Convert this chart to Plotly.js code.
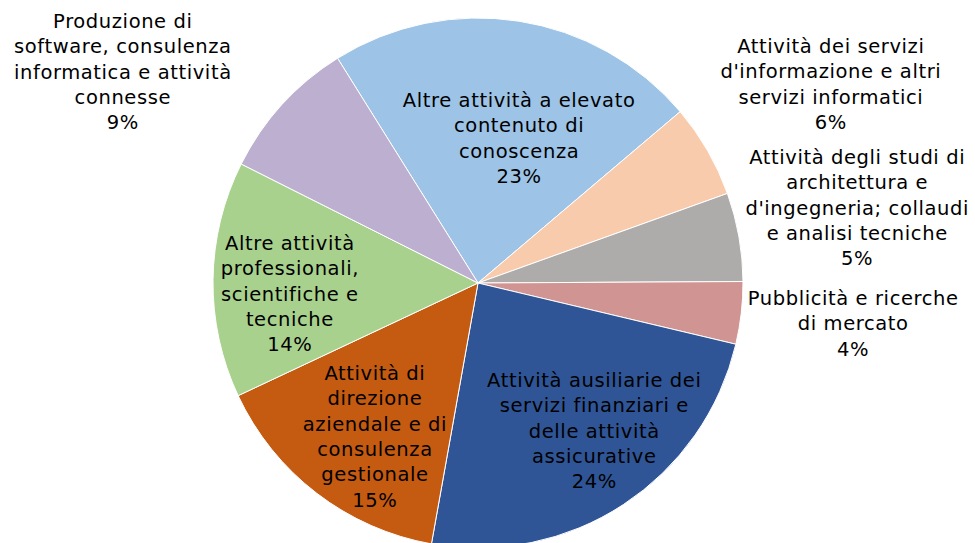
<!DOCTYPE html>
<html>
<head>
<meta charset="utf-8">
<script src="https://cdn.plot.ly/plotly-3.0.1.min.js"></script>
<style>
html,body{margin:0;padding:0;overflow:hidden;background:#fff;}
#chart{width:975px;height:560px;}
#chart text.annotation-text{letter-spacing:0.6px;}
</style>
</head>
<body>
<div id="chart"></div>
<script>
// Categories (with line breaks as in the reference labels)
const categories = [
  "Altre attività a elevato<br>contenuto di<br>conoscenza",
  "Attività dei servizi<br>d'informazione e altri<br>servizi informatici",
  "Attività degli studi di<br>architettura e<br>d'ingegneria; collaudi<br>e analisi tecniche",
  "Pubblicità e ricerche<br>di mercato",
  "Attività ausiliarie dei<br>servizi finanziari e<br>delle attività<br>assicurative",
  "Attività di<br>direzione<br>aziendale e di<br>consulenza<br>gestionale",
  "Altre attività<br>professionali,<br>scientifiche e<br>tecniche",
  "Produzione di<br>software, consulenza<br>informatica e attività<br>connesse"
];
// Shares (%)
const shares = [22.7, 5.7, 5.4, 3.8, 24.1, 15.2, 14.4, 8.7];
const colors = ["#9DC3E6", "#F8CBAD", "#AEABAB", "#D09592", "#2F5597", "#C55A11", "#A9D18E", "#BDAFD0"];

// Label positions (pixel centres in the 975x560 canvas)
const labelPos = [
  [519, 138], [831, 84], [857, 208], [853, 324],
  [594, 431], [375, 437], [290, 294], [123, 72]
];

const W = 975, H = 560;
const total = shares.reduce((a, b) => a + b, 0);

const annotations = categories.map((c, i) => ({
  text: c + "<br>" + Math.round(shares[i] / total * 100) + "%",
  x: labelPos[i][0] / W,
  y: (H - labelPos[i][1]) / H,
  xref: "paper", yref: "paper",
  xanchor: "center", yanchor: "middle",
  showarrow: false,
  align: "center",
  font: {family: "DejaVu Sans", size: 19.5, color: "#000"}
}));

const trace = {
  type: "pie",
  labels: categories,
  values: shares,
  sort: false,
  direction: "clockwise",
  rotation: -32,
  textinfo: "none",
  hoverinfo: "skip",
  marker: {colors: colors, line: {color: "#ffffff", width: 1}},
  domain: {x: [213 / W, 743 / W], y: [(H - 548) / H, (H - 18) / H]}
};

Plotly.newPlot("chart", [trace], {
  width: W, height: H,
  margin: {l: 0, r: 0, t: 0, b: 0},
  showlegend: false,
  paper_bgcolor: "#fff",
  annotations: annotations
}, {staticPlot: true});
</script>
</body>
</html>
